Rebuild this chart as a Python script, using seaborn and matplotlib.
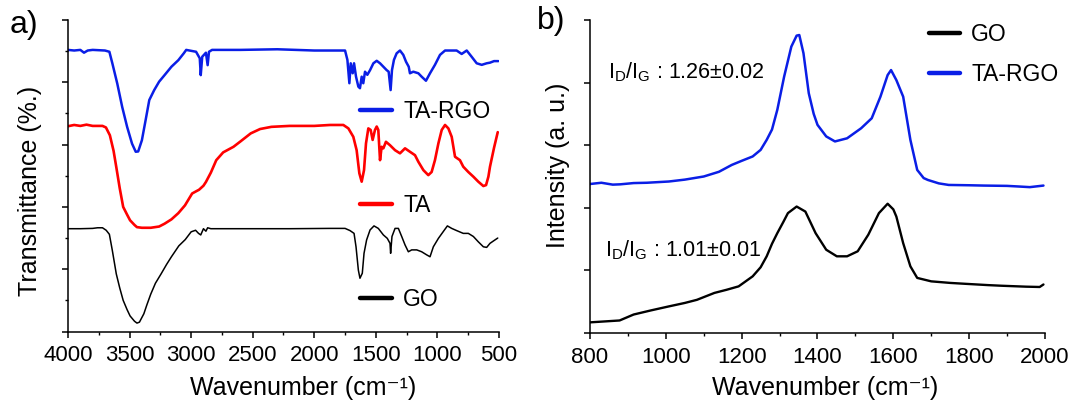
import numpy as np
import pandas as pd
import matplotlib
matplotlib.use('Agg')
import matplotlib.pyplot as plt
from matplotlib.lines import Line2D
from matplotlib.ticker import MultipleLocator
import seaborn as sns

# %% data (wavenumber, value)
# a) FTIR, transmittance in arbitrary offset units (0-10)
ftir_ta_rgo = [(4000, 9.04), (3950, 9.02), (3900, 9.04), (3870, 8.95), (3840, 9.02), (3800, 9.04),
               (3750, 9.03), (3700, 9.02), (3664, 8.98), (3640, 8.61), (3600, 7.96), (3560, 7.21),
               (3520, 6.57), (3480, 6.03), (3450, 5.77), (3430, 5.78), (3400, 6.14), (3370, 6.78),
               (3340, 7.43), (3300, 7.75), (3260, 8.02), (3216, 8.23), (3160, 8.5), (3104, 8.71),
               (3060, 8.93), (3040, 9.04), (2960, 8.98), (2930, 8.77), (2922, 8.23), (2910, 8.82),
               (2880, 8.95), (2866, 8.55), (2855, 8.98), (2830, 9.04), (2600, 9.04), (2300, 9.06),
               (2000, 9.02), (1872, 9.02), (1750, 9.02), (1731, 8.72), (1715, 7.97), (1704, 8.61),
               (1688, 8.29), (1677, 8.61), (1661, 8.18), (1642, 7.86), (1629, 7.81), (1615, 8.18),
               (1602, 7.97), (1588, 8.34), (1569, 8.24), (1547, 8.39), (1520, 8.61), (1493, 8.69),
               (1466, 8.61), (1439, 8.5), (1412, 8.39), (1396, 8.34), (1380, 7.75), (1369, 8.39),
               (1353, 8.72), (1331, 8.93), (1304, 9.02), (1277, 8.88), (1255, 8.66), (1233, 8.5),
               (1223, 8.29), (1196, 8.34), (1155, 8.29), (1128, 8.18), (1093, 8.05), (1060, 8.29),
               (1020, 8.56), (979, 8.88), (938, 9.02), (844, 9.02), (803, 8.91), (762, 9.02),
               (722, 8.82), (681, 8.61), (640, 8.56), (600, 8.61), (573, 8.63), (540, 8.68), (505, 8.68)]

ftir_ta = [(4000, 6.59), (3950, 6.63), (3900, 6.6), (3850, 6.64), (3800, 6.6), (3720, 6.6),
           (3692, 6.55), (3660, 6.3), (3630, 5.8), (3608, 5.28), (3580, 4.6), (3552, 4.0),
           (3520, 3.75), (3496, 3.57), (3460, 3.42), (3440, 3.35), (3400, 3.33), (3328, 3.33),
           (3260, 3.37), (3216, 3.46), (3160, 3.6), (3104, 3.8), (3050, 4.05), (2992, 4.43),
           (2960, 4.5), (2936, 4.55), (2900, 4.68), (2880, 4.8), (2840, 5.1), (2796, 5.5),
           (2740, 5.75), (2656, 5.93), (2600, 6.1), (2516, 6.36), (2440, 6.5), (2348, 6.57),
           (2200, 6.6), (2000, 6.6), (1872, 6.63), (1764, 6.63), (1723, 6.52), (1683, 6.25),
           (1656, 5.82), (1634, 5.08), (1615, 4.81), (1596, 5.18), (1580, 6.04), (1561, 6.52),
           (1542, 6.47), (1526, 6.15), (1507, 6.47), (1493, 6.58), (1480, 6.47), (1466, 5.5),
           (1453, 5.93), (1439, 5.88), (1418, 6.09), (1385, 5.98), (1344, 5.82), (1304, 5.72),
           (1263, 5.88), (1223, 5.77), (1182, 5.66), (1155, 5.45), (1114, 5.18), (1074, 5.02),
           (1047, 5.12), (1020, 5.5), (992, 6.04), (965, 6.47), (938, 6.63), (911, 6.52),
           (884, 6.25), (857, 5.61), (817, 5.5), (790, 5.29), (749, 5.12), (708, 4.97),
           (668, 4.81), (627, 4.67), (605, 4.7), (586, 4.97), (573, 5.29), (540, 5.9), (510, 6.4)]

ftir_go = [(4000, 3.3), (3900, 3.3), (3800, 3.31), (3760, 3.33), (3720, 3.33), (3690, 3.25),
           (3664, 3.12), (3640, 2.6), (3608, 1.85), (3580, 1.4), (3552, 1.0), (3520, 0.7),
           (3496, 0.5), (3460, 0.33), (3440, 0.27), (3420, 0.3), (3400, 0.45), (3384, 0.57),
           (3360, 0.85), (3328, 1.2), (3290, 1.55), (3244, 1.85), (3200, 2.15), (3160, 2.4),
           (3100, 2.75), (3048, 2.95), (3000, 3.2), (2964, 3.25), (2940, 3.15), (2922, 3.1),
           (2900, 3.3), (2880, 3.22), (2866, 3.33), (2840, 3.3), (2500, 3.3), (2200, 3.3),
           (1872, 3.31), (1750, 3.31), (1710, 3.24), (1677, 3.15), (1661, 2.72), (1642, 1.97),
           (1629, 1.71), (1610, 1.87), (1596, 2.51), (1575, 2.94), (1547, 3.26), (1515, 3.39),
           (1480, 3.31), (1439, 3.1), (1407, 2.99), (1385, 2.83), (1380, 2.51), (1369, 3.05),
           (1344, 3.31), (1317, 3.31), (1290, 3.05), (1263, 2.78), (1236, 2.56), (1209, 2.62),
           (1168, 2.62), (1128, 2.56), (1087, 2.46), (1060, 2.4), (1033, 2.72), (992, 2.99),
           (952, 3.21), (919, 3.39), (884, 3.31), (844, 3.24), (790, 3.15), (749, 3.15),
           (708, 3.05), (668, 2.88), (627, 2.72), (600, 2.7), (573, 2.83), (540, 2.92), (510, 3.0)]

# b) Raman, intensity in arbitrary offset units (0-10)
raman_ta_rgo = [(800, 4.76), (830, 4.8), (860, 4.74), (880, 4.75), (915, 4.79), (950, 4.8),
                (1008, 4.84), (1050, 4.9), (1100, 5.0), (1140, 5.15), (1174, 5.37), (1200, 5.5),
                (1229, 5.64), (1250, 5.85), (1266, 6.17), (1280, 6.5), (1294, 7.13), (1312, 8.19),
                (1331, 9.15), (1345, 9.5), (1352, 9.52), (1363, 8.94), (1377, 7.66), (1390, 7.0),
                (1400, 6.65), (1423, 6.28), (1446, 6.12), (1478, 6.22), (1515, 6.54), (1543, 6.86),
                (1566, 7.55), (1585, 8.24), (1594, 8.4), (1608, 8.08), (1626, 7.55), (1645, 6.17),
                (1663, 5.21), (1680, 4.95), (1691, 4.89), (1720, 4.78), (1746, 4.73), (1800, 4.72),
                (1838, 4.71), (1900, 4.7), (1931, 4.68), (1960, 4.66), (1996, 4.71)]

raman_go = [(800, 0.34), (878, 0.4), (915, 0.59), (960, 0.72), (1008, 0.85), (1050, 0.96),
            (1082, 1.06), (1128, 1.28), (1160, 1.38), (1192, 1.49), (1229, 1.81), (1250, 2.1),
            (1266, 2.45), (1280, 2.85), (1294, 3.19), (1310, 3.55), (1322, 3.83), (1345, 4.04),
            (1368, 3.88), (1395, 3.19), (1423, 2.66), (1451, 2.45), (1478, 2.45), (1506, 2.61),
            (1534, 3.14), (1562, 3.83), (1585, 4.13), (1600, 3.95), (1608, 3.72), (1626, 2.87),
            (1645, 2.13), (1663, 1.76), (1700, 1.65), (1750, 1.6), (1792, 1.57), (1850, 1.53),
            (1885, 1.51), (1950, 1.48), (1986, 1.47), (1996, 1.55)]

ratio_labels = ['1.26\u00b10.02', '1.01\u00b10.01']
xlabel_txt = 'Wavenumber (cm\u207b\u00b9)'

# %% style
sns.set_style('ticks')
plt.rcParams['font.family'] = ['Liberation Sans', 'DejaVu Sans']
plt.rcParams['mathtext.fontset'] = 'custom'
plt.rcParams['mathtext.rm'] = 'Liberation Sans'
plt.rcParams['text.color'] = 'black'
plt.rcParams['axes.labelcolor'] = 'black'
plt.rcParams['xtick.color'] = 'black'
plt.rcParams['ytick.color'] = 'black'

c_blue = '#0a1ee6'
c_red = '#ff0000'
c_black = '#000000'


def to_df(pairs):
    return pd.DataFrame(pairs, columns=['wn', 'val'])


fig = plt.figure(figsize=(10.71, 4.03), dpi=100)
ax1 = fig.add_axes([0.0635, 0.1774, 0.4024, 0.773])
ax2 = fig.add_axes([0.5509, 0.1737, 0.4248, 0.7767])

# %% a) FTIR
for pairs, col, lw in [(ftir_ta_rgo, c_blue, 1.8), (ftir_ta, c_red, 1.9), (ftir_go, c_black, 1.1)]:
    sns.lineplot(data=to_df(pairs), x='wn', y='val', color=col, lw=lw,
                 estimator=None, ax=ax1)
ax1.set_xlim(4000, 500)
ax1.set_ylim(0, 10)
ax1.xaxis.set_major_locator(MultipleLocator(500))
ax1.xaxis.set_minor_locator(MultipleLocator(250))
ax1.yaxis.set_major_locator(MultipleLocator(2))
ax1.yaxis.set_minor_locator(MultipleLocator(1))
ax1.set_yticklabels([])
ax1.set_xlabel(xlabel_txt, fontsize=18, va='baseline')
ax1.set_ylabel('Transmittance (%.)', fontsize=18)
ax1.xaxis.set_label_coords(0.545, -0.205)
ax1.yaxis.set_label_coords(-0.06, 0.45)

h1 = [Line2D([], [], color=c, lw=3.2) for c in [c_blue, c_red, c_black]]
ax1.legend(h1, ['TA-RGO', 'TA', 'GO'], loc='upper left', bbox_to_anchor=(0.677, 0.742),
           frameon=False, fontsize=16.5, borderpad=0, borderaxespad=0,
           handlelength=1.4, handletextpad=0.5, labelspacing=3.1)

# %% b) Raman
sns.lineplot(data=to_df(raman_ta_rgo), x='wn', y='val', color=c_blue, lw=1.8, estimator=None, ax=ax2)
sns.lineplot(data=to_df(raman_go), x='wn', y='val', color=c_black, lw=1.7, estimator=None, ax=ax2)
ax2.set_xlim(800, 2000)
ax2.set_ylim(0, 10)
ax2.xaxis.set_major_locator(MultipleLocator(200))
ax2.xaxis.set_minor_locator(MultipleLocator(100))
ax2.yaxis.set_major_locator(MultipleLocator(2))
ax2.set_yticklabels([])
ax2.set_xlabel(xlabel_txt, fontsize=18, va='baseline')
ax2.set_ylabel('Intensity (a. u.)', fontsize=18)
ax2.xaxis.set_label_coords(0.516, -0.199)
ax2.yaxis.set_label_coords(-0.044, 0.537)

h2 = [Line2D([], [], color=c, lw=3.2) for c in [c_black, c_blue]]
ax2.legend(h2, ['GO', 'TA-RGO'], loc='upper left', bbox_to_anchor=(0.745, 0.99),
           frameon=False, fontsize=16.5, borderpad=0, borderaxespad=0,
           handlelength=1.35, handletextpad=0.5, labelspacing=0.75)

ax2.text(0.04, 0.834, r'$\mathregular{I_D/I_G}$ : ' + ratio_labels[0], transform=ax2.transAxes,
         fontsize=15.5, va='center', ha='left')
ax2.text(0.033, 0.265, r'$\mathregular{I_D/I_G}$ : ' + ratio_labels[1], transform=ax2.transAxes,
         fontsize=15.5, va='center', ha='left')

for ax in [ax1, ax2]:
    sns.despine(ax=ax)
    for s in ['left', 'bottom']:
        ax.spines[s].set_linewidth(1.1)
        ax.spines[s].set_color('black')
    ax.tick_params(which='major', direction='out', length=4, width=1.1, color='black',
                   labelsize=16, pad=6, labelcolor='black')
    ax.tick_params(which='minor', direction='out', length=2.5, width=1.0, color='black')

fig.text(0.009, 0.975, 'a)', fontsize=23, va='top', ha='left')
fig.text(0.501, 0.985, 'b)', fontsize=23, va='top', ha='left')

fig.savefig('out.png', dpi=100)
